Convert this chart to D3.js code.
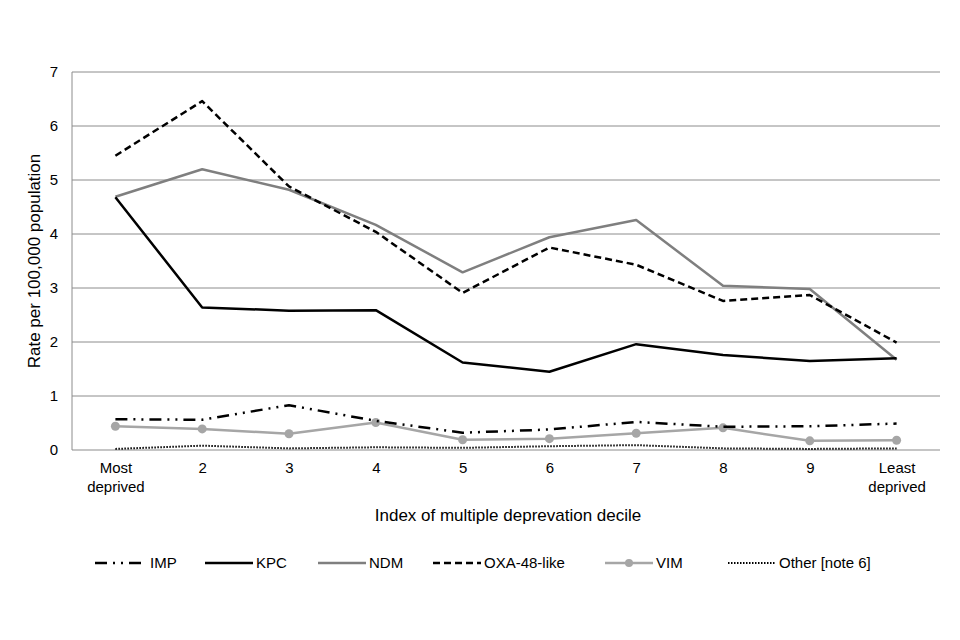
<!DOCTYPE html>
<html>
<head>
<meta charset="utf-8">
<script src="https://cdn.jsdelivr.net/npm/d3@7"></script>
<style>
  body { margin: 0; background: #fff; }
  svg { display: block; font-family: "Liberation Sans", Arial, sans-serif; }
</style>
</head>
<body>
<svg id="chart" width="960" height="640"></svg>
<script>
// decile labels (multi-line ones split with \n)
var deciles = ["Most\ndeprived", "2", "3", "4", "5", "6", "7", "8", "9", "Least\ndeprived"];
var yTicks = [0, 1, 2, 3, 4, 5, 6, 7];

var imp = [0.57, 0.56, 0.83, 0.54, 0.32, 0.38, 0.52, 0.43, 0.44, 0.49];
var kpc = [4.68, 2.64, 2.58, 2.59, 1.62, 1.45, 1.96, 1.76, 1.65, 1.70];
var ndm = [4.69, 5.20, 4.82, 4.17, 3.29, 3.94, 4.26, 3.04, 2.98, 1.67];
var oxa = [5.45, 6.46, 4.88, 4.04, 2.91, 3.75, 3.43, 2.76, 2.87, 1.99];
var vim = [0.44, 0.39, 0.30, 0.51, 0.19, 0.21, 0.31, 0.41, 0.17, 0.18];
var other = [0.02, 0.08, 0.03, 0.05, 0.04, 0.07, 0.09, 0.03, 0.02, 0.03];

var series = [
  { key: "IMP", values: imp, color: "#000", width: 2.5, dash: "12,6,2,6,2,6" },
  { key: "KPC", values: kpc, color: "#000", width: 2.5, dash: null },
  { key: "NDM", values: ndm, color: "#7f7f7f", width: 2.5, dash: null },
  { key: "OXA-48-like", values: oxa, color: "#000", width: 2.5, dash: "7,4" },
  { key: "VIM", values: vim, color: "#a6a6a6", width: 2.5, dash: null, marker: true },
  { key: "Other [note 6]", values: other, color: "#000", width: 2, dash: "1.5,1.5" }
];
// draw order: bottom to top as in the picture
var drawOrder = ["Other [note 6]", "VIM", "IMP", "NDM", "OXA-48-like", "KPC"];
// legend item left edges
var legendX = [95, 205, 318, 433, 605, 728];

var m = { top: 72, right: 20, bottom: 190, left: 72 },
    W = 960, H = 640,
    svg = d3.select("#chart");

var x = d3.scalePoint().domain(deciles).range([m.left, W - m.right]).padding(0.5);
var y = d3.scaleLinear().domain([0, 7]).range([H - m.bottom, m.top]);

// gridlines
svg.append("g").selectAll("line").data(yTicks.filter(function(d) { return d > 0; })).enter()
  .append("line")
  .attr("x1", m.left).attr("x2", W - m.right)
  .attr("y1", function(d) { return y(d); }).attr("y2", function(d) { return y(d); })
  .attr("stroke", "#8c8c8c").attr("stroke-width", 1);

// y axis line and x axis line
svg.append("line").attr("x1", m.left).attr("x2", m.left).attr("y1", y(7)).attr("y2", y(0))
  .attr("stroke", "#8c8c8c");
svg.append("line").attr("x1", m.left).attr("x2", W - m.right).attr("y1", y(0)).attr("y2", y(0))
  .attr("stroke", "#8c8c8c").attr("stroke-width", 1.2);

// y tick labels
var yAxis = d3.axisLeft(y).tickValues(yTicks).tickSize(0).tickPadding(14).tickFormat(d3.format("d"));
var ya = svg.append("g").attr("transform", "translate(" + m.left + ",0)").call(yAxis);
ya.select(".domain").remove();
ya.selectAll("text").attr("font-size", 15).attr("fill", "#000").attr("font-family", "Liberation Sans, Arial, sans-serif");

// x tick labels
var xAxis = d3.axisBottom(x).tickSize(0).tickPadding(12);
var xa = svg.append("g").attr("transform", "translate(0," + y(0) + ")").call(xAxis);
xa.select(".domain").remove();
xa.selectAll("text").each(function(d) {
  var t = d3.select(this), parts = d.split("\n");
  t.text(null).attr("font-size", 15).attr("fill", "#000").attr("font-family", "Liberation Sans, Arial, sans-serif");
  parts.forEach(function(p, i) {
    t.append("tspan").attr("x", 0).attr("dy", i === 0 ? "0.71em" : "1.3em").text(p);
  });
});

// axis titles
svg.append("text").attr("transform", "translate(40," + ((y(0) + y(7)) / 2) + ") rotate(-90)")
  .attr("text-anchor", "middle").attr("font-size", 17).text("Rate per 100,000 population");
svg.append("text").attr("x", (m.left + W - m.right) / 2 + 2).attr("y", 521)
  .attr("text-anchor", "middle").attr("font-size", 17).text("Index of multiple deprevation decile");

// lines
var line = d3.line()
  .x(function(d, i) { return x(deciles[i]); })
  .y(function(d) { return y(d); });

var byKey = {};
series.forEach(function(s) { byKey[s.key] = s; });

drawOrder.forEach(function(k) {
  var s = byKey[k];
  svg.append("path").datum(s.values)
    .attr("d", line)
    .attr("fill", "none")
    .attr("stroke", s.color)
    .attr("stroke-width", s.width)
    .attr("stroke-dasharray", s.dash)
    .attr("stroke-linejoin", "round");
  if (s.marker) {
    svg.append("g").selectAll("circle").data(s.values).enter().append("circle")
      .attr("cx", function(d, i) { return x(deciles[i]); })
      .attr("cy", function(d) { return y(d); })
      .attr("r", 4.5)
      .attr("fill", s.color);
  }
});

// legend
var lg = svg.append("g").attr("transform", "translate(0,563)");
var items = lg.selectAll("g").data(series).enter().append("g")
  .attr("transform", function(d, i) { return "translate(" + legendX[i] + ",0)"; });
items.append("line")
  .attr("x1", 0).attr("x2", 48).attr("y1", 0).attr("y2", 0)
  .attr("stroke", function(d) { return d.color; })
  .attr("stroke-width", function(d) { return d.width; })
  .attr("stroke-dasharray", function(d) { return d.dash; });
items.filter(function(d) { return d.marker; }).append("circle")
  .attr("cx", 24).attr("cy", 0).attr("r", 4).attr("fill", function(d) { return d.color; });
items.append("text").attr("x", function(d, i) { return i === 0 ? 55 : 51; })
  .attr("dy", "0.35em").attr("font-size", 15).text(function(d) { return d.key; });
</script>
</body>
</html>
